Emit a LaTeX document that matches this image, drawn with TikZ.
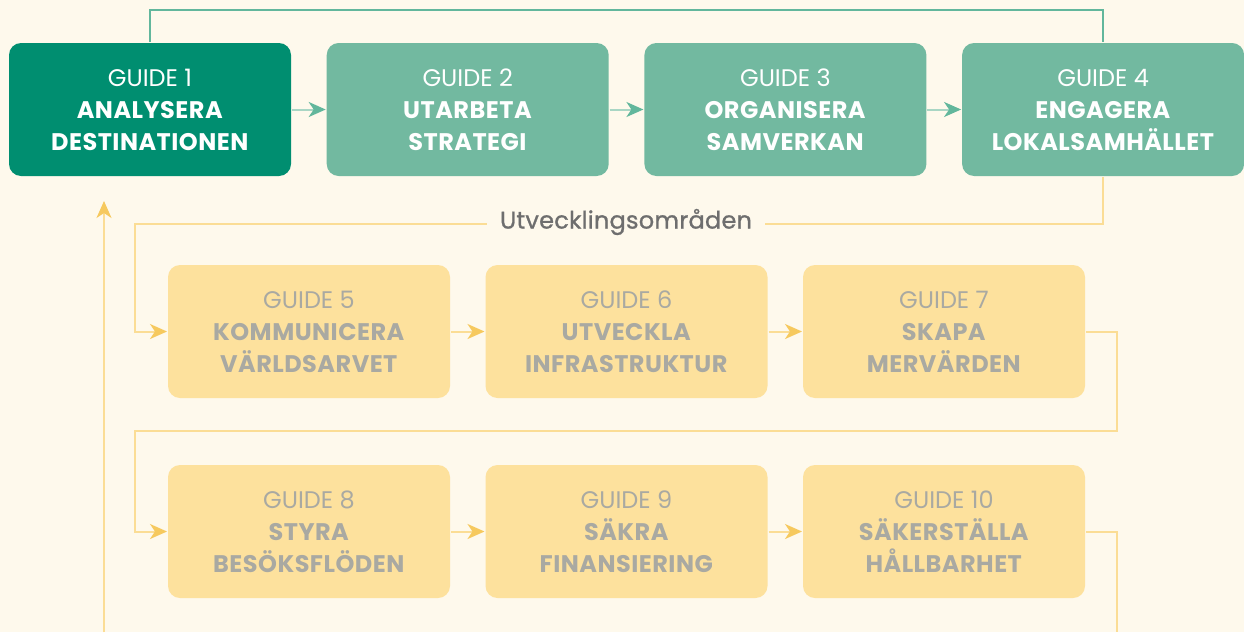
\documentclass[tikz,border=0pt]{standalone}
\usepackage{fontspec}
\setmainfont{Poppins}[BoldFeatures={LetterSpace=2}]
\usetikzlibrary{positioning}
\usetikzlibrary{arrows.meta}
\definecolor{cream}{HTML}{FEF9EC}
\definecolor{darkgreen}{HTML}{008E70}
\definecolor{lightgreen}{HTML}{72B9A0}
\definecolor{greenline}{HTML}{62B79C}
\definecolor{greenpale}{HTML}{A9D6C4}
\definecolor{sand}{HTML}{FDE19D}
\definecolor{sandline}{HTML}{FBDD95}
\definecolor{sandarrow}{HTML}{F6C95E}
\definecolor{greytext}{HTML}{A9A9A2}
\definecolor{labeltext}{HTML}{6E6E6E}
\tikzset{every picture/.style={line width=2pt},
guide/.style={rounded corners=12pt,minimum width=282pt,minimum height=133pt,inner sep=0pt,align=center,font=\fontsize{24}{32}\selectfont},
mainguide/.style={guide,fill=darkgreen,text=white},
greenguide/.style={guide,fill=lightgreen,text=white},
sandguide/.style={guide,fill=sand,text=greytext},
gline/.style={draw=greenline},
sline/.style={draw=sandline},
garrow/.style={draw=greenpale,-{Stealth[length=17pt,width=15pt,inset=5pt,color=greenline]}},
sarrow/.style={draw=sandline,-{Stealth[length=17pt,width=15pt,inset=5pt,color=sandarrow]}}}

\begin{document}
\begin{tikzpicture}[x=1pt,y=-1pt]
\path[use as bounding box,fill=cream] (0,0) rectangle (1244,632);
% row 1
\node (g1) at (150,109.5) [mainguide] {GUIDE 1\\\textbf{ANALYSERA}\\\textbf{DESTINATIONEN}};
\foreach \x / \y / \z [evaluate=\x as \px using 150+(\x-1)*317.7] in {2/UTARBETA/STRATEGI,3/ORGANISERA/SAMVERKAN,4/ENGAGERA/LOKALSAMHÄLLET} {
\node (g\x) at (\px,109.5) [greenguide] {GUIDE \x\\\textbf{\y}\\\textbf{\z}};
}
% row 2 and 3
\foreach \x / \y / \z [evaluate=\x as \px using 309+(\x-5)*317.5] in {5/KOMMUNICERA/VÄRLDSARVET,6/UTVECKLA/INFRASTRUKTUR,7/SKAPA/MERVÄRDEN} {
\node (g\x) at (\px,331.5) [sandguide] {GUIDE \x\\\textbf{\y}\\\textbf{\z}};
}
\foreach \x / \y / \z [evaluate=\x as \px using 309+(\x-8)*317.5] in {8/STYRA/BESÖKSFLÖDEN,9/SÄKRA/FINANSIERING,10/SÄKERSTÄLLA/HÅLLBARHET} {
\node (g\x) at (\px,531.5) [sandguide] {GUIDE \x\\\textbf{\y}\\\textbf{\z}};
}
\foreach \x / \y in {1/2,2/3,3/4} {
\draw[garrow] (g\x) -- (g\y);
}
\foreach \x / \y in {5/6,6/7,8/9,9/10} {
\draw[sarrow] (g\x) -- (g\y);
}
% loops
\draw[gline] (g1.north) -- (g1.north |- 0,10) -| (g4.north);
\draw[sarrow] (g4.south) |- (135,224) |- (g5.west);
\node (omr) at (626,222) [fill=cream,inner xsep=13pt,text=labeltext,font=\fontsize{24}{28}\selectfont\addfontfeature{LetterSpace=1,FakeBold=1}] {Utvecklingsområden};
\draw[sarrow] (g7.east) -- (1117,331.5) -- (1117,431) -- (135,431) |- (g8.west);
\coordinate (g10out) at (1117,632);
\draw[sline] (g10.east) -| (g10out);
\coordinate (back) at (104,632);
\draw[sarrow] (back) -- ([yshift=-24pt]g1.south -| back);
\end{tikzpicture}
\end{document}
